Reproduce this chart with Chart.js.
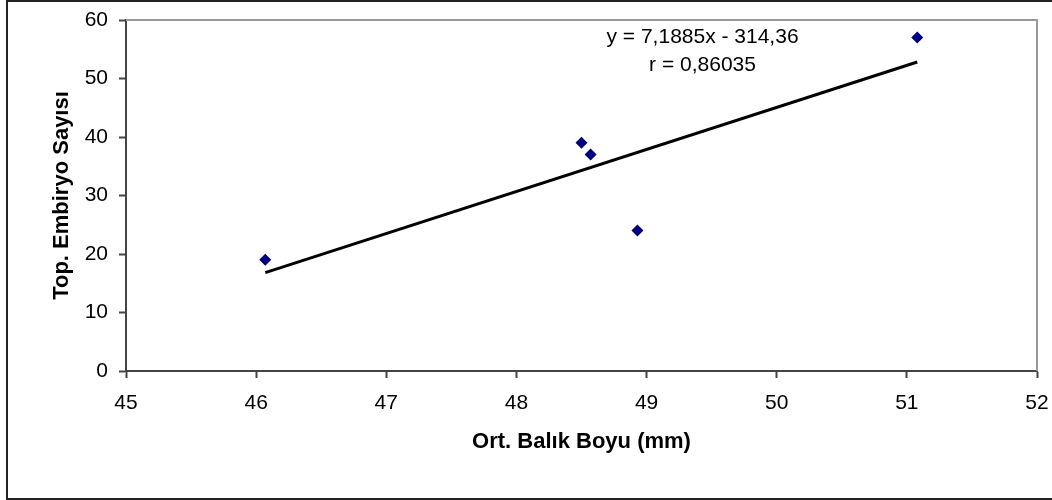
<!DOCTYPE html>
<html>
<head>
<meta charset="utf-8">
<script src="https://cdn.jsdelivr.net/npm/chart.js@4"></script>
<style>
    body { margin: 0; background: #fff; }
    #wrap { width: 1052px; height: 500px; }
</style>
</head>
<body>
<div id="wrap"><canvas id="myChart" width="1052" height="500"></canvas></div>
<script>
// data
const boyu = [46.07, 48.50, 48.57, 48.93, 51.08];   // Ort. Balık Boyu (mm)
const embriyo = [19, 39, 37, 24, 57];                // Top. Embiryo Sayısı
const slope = 7.1885;
const intercept = -314.36;
const eqLines = ['y = 7,1885x - 314,36', 'r = 0,86035'];

const FONT = "'Liberation Sans', Arial, sans-serif";

function showChart() {
    const points = boyu.map((x, i) => ({ x: x, y: embriyo[i] }));
    const xMin = Math.min(...boyu);
    const xMax = Math.max(...boyu);
    const trend = [
        { x: xMin, y: slope * xMin + intercept },
        { x: xMax, y: slope * xMax + intercept }
    ];

    // frame + plot border + equation text
    const extras = {
        id: 'extras',
        beforeDraw(chart) {
            const ctx = chart.ctx;
            ctx.save();
            ctx.strokeStyle = '#222';
            ctx.lineWidth = 2;
            ctx.strokeRect(7, 1, 1070, 498);
            ctx.restore();
        },
        beforeDatasetsDraw(chart) {
            const ctx = chart.ctx;
            const a = chart.chartArea;
            ctx.save();
            ctx.strokeStyle = '#999';
            ctx.lineWidth = 2;
            ctx.beginPath();
            ctx.moveTo(a.left, a.top);
            ctx.lineTo(a.right, a.top);
            ctx.lineTo(a.right, a.bottom);
            ctx.stroke();
            ctx.restore();
        },
        afterDatasetsDraw(chart) {
            const ctx = chart.ctx;
            const xs = chart.scales.x, ys = chart.scales.y;
            ctx.save();
            ctx.fillStyle = '#000';
            ctx.font = '21px ' + FONT;
            ctx.textAlign = 'center';
            ctx.textBaseline = 'middle';
            const cx = xs.getPixelForValue(49.43);
            ctx.fillText(eqLines[0], cx, ys.getPixelForValue(57.1));
            ctx.fillText(eqLines[1], cx, ys.getPixelForValue(52.3));
            ctx.restore();
        }
    };

    const ctx = document.getElementById('myChart');
    const myChart = new Chart(ctx, {
        type: 'scatter',
        data: {
            datasets: [{
                type: 'line',
                data: trend,
                borderColor: '#000',
                borderWidth: 3,
                pointRadius: 0,
                fill: false,
                order: 2
            }, {
                data: points,
                pointStyle: 'rectRot',
                pointRadius: 6,
                backgroundColor: '#000080',
                borderColor: '#000080',
                borderWidth: 0,
                order: 1
            }]
        },
        options: {
            responsive: false,
            animation: false,
            layout: { padding: { left: 0, top: 20, right: 15, bottom: 0 } },
            plugins: {
                legend: { display: false },
                tooltip: { enabled: false }
            },
            scales: {
                x: {
                    type: 'linear',
                    min: 45,
                    max: 52,
                    ticks: { stepSize: 1, color: '#000', padding: 13, font: { family: FONT, size: 21 } },
                    grid: { drawOnChartArea: false, tickLength: 7, tickColor: '#444', tickWidth: 2 },
                    border: { color: '#444', width: 2 },
                    title: {
                        display: true,
                        text: 'Ort. Balık Boyu (mm)',
                        color: '#000',
                        font: { family: FONT, size: 22, weight: 'bold' },
                        padding: { top: 0, bottom: 45 }
                    },
                    afterFit(scale) {
                        scale.height = 129;
                        scale.paddingLeft = 0;
                        scale.paddingRight = 0;
                    }
                },
                y: {
                    min: 0,
                    max: 60,
                    ticks: { stepSize: 10, color: '#000', padding: 11, font: { family: FONT, size: 21 } },
                    grid: { drawOnChartArea: false, tickLength: 7, tickColor: '#444', tickWidth: 2 },
                    border: { color: '#444', width: 2 },
                    title: {
                        display: true,
                        text: 'Top. Embiryo Sayısı',
                        color: '#000',
                        font: { family: FONT, size: 22, weight: 'bold' },
                        padding: { top: 49, bottom: 0 }
                    },
                    afterFit(scale) {
                        scale.width = 126;
                        scale.paddingTop = 0;
                        scale.paddingBottom = 0;
                    }
                }
            }
        },
        plugins: [extras]
    });
}

showChart();
</script>
</body>
</html>
